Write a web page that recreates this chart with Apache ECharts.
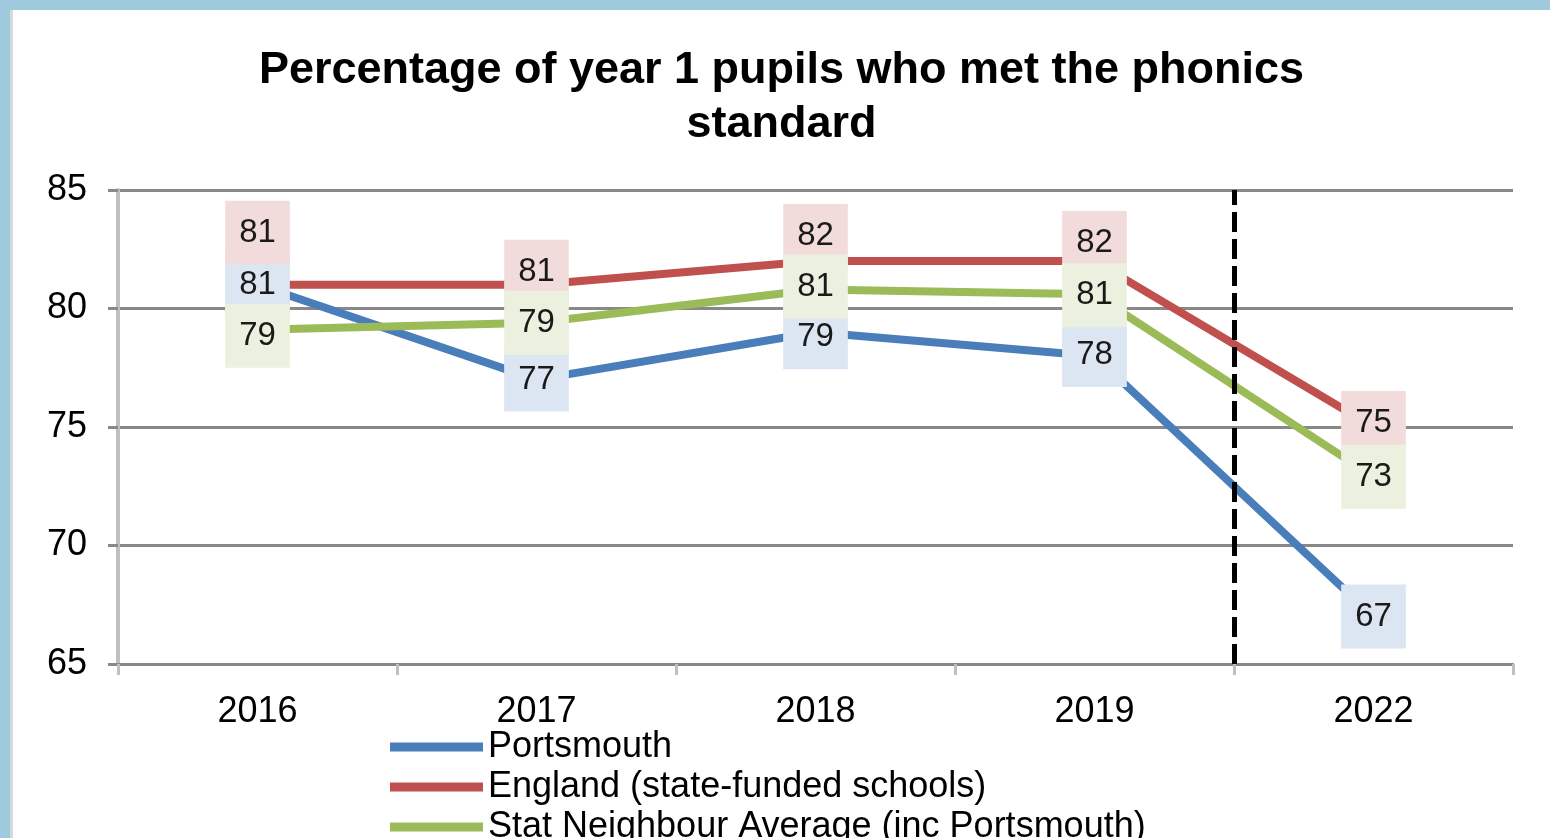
<!DOCTYPE html>
<html>
<head>
<meta charset="utf-8">
<script src="https://cdn.jsdelivr.net/npm/echarts@6/dist/echarts.min.js"></script>
<style>
  html, body { margin: 0; padding: 0; background: #9fc9dd; width: 1550px; height: 838px; overflow: hidden; }
  #strip { position: absolute; left: 10px; top: 10px; width: 3px; height: 828px; background: #d9d9d9; }
  #chart { position: absolute; left: 13px; top: 10px; width: 1537px; height: 828px; background: #fff; }
</style>
</head>
<body>
<div id="strip"></div>
<div id="chart"></div>
<script>
// data
const years = ['2016', '2017', '2018', '2019', '2022']
const portsmouth = [81, 77, 79, 78, 67]
const england = [81, 81, 82, 82, 75]
const statNeighbour = [79.1, 79.4, 80.8, 80.6, 72.9]
const seriesNames = ['Portsmouth', 'England (state-funded schools)', 'Stat Neighbour Average (inc Portsmouth)']
const dividerAt = 4   // boundary between 2019 and 2022

// label nudges (px, vertical) so the boxes sit like in the original
const portsmouthShift = [0, 0, 5, -1, 0]
const englandShift = [-52, -13, -25, -18, -4]
const neighbourShift = [6, 0, -3, 1, 0]

const font = "'Liberation Sans', Arial, sans-serif"

function lineSeries(name, values, shifts, color, boxColor){
	return {
		name: name,
		type: 'line',
		data: values.map((v, i) => ({value: v, label: {offset: [0, shifts[i]]}})),
		symbol: 'circle',
		symbolSize: 1,
		itemStyle: {color: color},
		lineStyle: {color: color, width: 8},
		label: {
			show: true,
			position: 'inside',
			formatter: p => Math.round(p.value),
			fontFamily: font,
			fontSize: 33,
			lineHeight: 38,
			color: '#1a1a1a',
			backgroundColor: boxColor,
			padding: [14, 14, 12, 14]
		}
	}
}

const chart = echarts.init(document.getElementById('chart'))
chart.setOption({
	animation: false,
	title: {
		text: 'Percentage of year 1 pupils who met the phonics\nstandard',
		left: 'center',
		top: 34,
		padding: 0,
		textStyle: {fontFamily: font, fontSize: 45, fontWeight: 'bold', lineHeight: 54, color: '#000'}
	},
	legend: {
		orient: 'vertical',
		left: 377,
		top: 717,
		height: 200,
		padding: 0,
		itemGap: 0,
		itemWidth: 93,
		itemHeight: 9,
		data: seriesNames.map(n => ({name: n, icon: 'rect'})),
		textStyle: {fontFamily: font, fontSize: 36, lineHeight: 40, color: '#000'}
	},
	grid: {left: 105, right: 37, top: 180, bottom: 174},
	xAxis: [{
		type: 'category',
		data: years,
		boundaryGap: true,
		axisLine: {lineStyle: {color: '#888', width: 3}},
		axisTick: {show: true, length: 11, interval: 0, lineStyle: {color: '#c0c0c0', width: 3}},
		axisLabel: {fontFamily: font, fontSize: 36, color: '#000', margin: 30, interval: 0}
	}, {
		type: 'value',
		min: 0,
		max: years.length,
		show: false
	}],
	yAxis: {
		type: 'value',
		min: 65,
		max: 85,
		interval: 5,
		axisLine: {show: true, lineStyle: {color: '#c0c0c0', width: 4}},
		axisTick: {show: true, length: 10, lineStyle: {color: '#888', width: 3}},
		axisLabel: {fontFamily: font, fontSize: 36, color: '#000', margin: 31},
		splitLine: {lineStyle: {color: '#888', width: 3}}
	},
	series: [
		lineSeries(seriesNames[0], portsmouth, portsmouthShift, '#4a7ebb', '#dce6f2'),
		lineSeries(seriesNames[1], england, englandShift, '#c0504d', '#f2dcdb'),
		lineSeries(seriesNames[2], statNeighbour, neighbourShift, '#9bbb59', '#ebf1de'),
		{
			type: 'line',
			xAxisIndex: 1,
			data: [],
			silent: true,
			markLine: {
				silent: true,
				symbol: 'none',
				label: {show: false},
				lineStyle: {color: '#000', width: 5, type: [20, 7]},
				data: [{xAxis: dividerAt}]
			}
		}
	]
})
</script>
</body>
</html>
